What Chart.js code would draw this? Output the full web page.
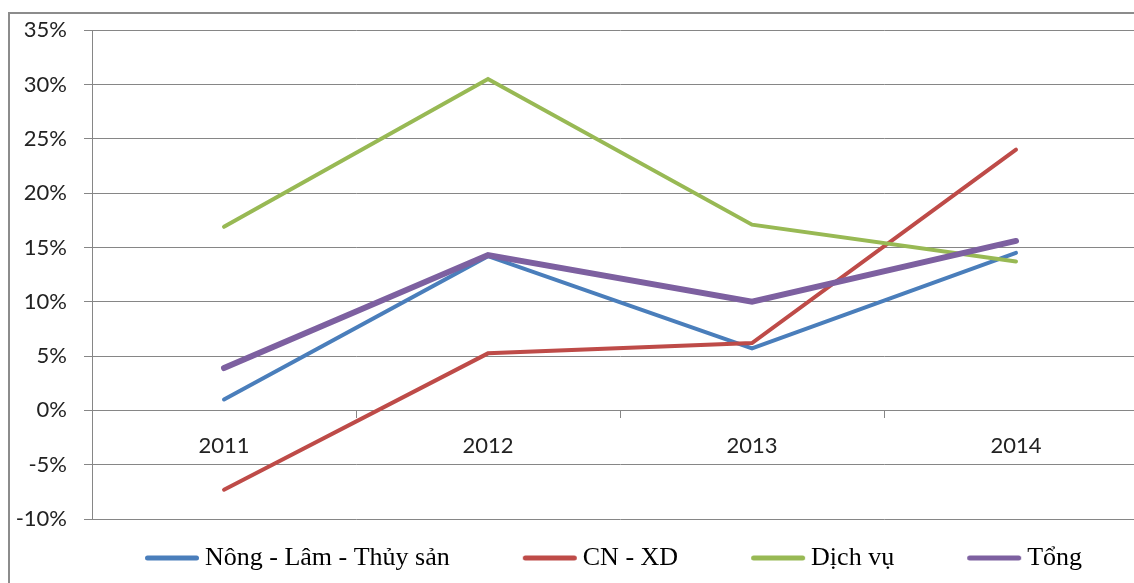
<!DOCTYPE html>
<html><head><meta charset="utf-8">
<script src="https://cdn.jsdelivr.net/npm/chart.js@4.4.0/dist/chart.umd.min.js"></script>
<style>
html,body{margin:0;padding:0;background:#fff;overflow:hidden;width:1134px;height:583px}
#frame{position:absolute;left:8px;top:12px;width:1200px;height:700px;border-left:2px solid #8c8c8c;border-top:2px solid #8c8c8c}
#wrap{position:absolute;left:0;top:0;width:1190px;height:583px}
</style></head><body>
<div id="frame"></div>
<div id="wrap"><canvas id="c"></canvas></div>
<script>
const years = ['2011', '2012', '2013', '2014'];
const nongLamThuySan = [1.0, 14.2, 5.7, 14.5];
const cnXd = [-7.3, 5.25, 6.2, 24.0];
const dichVu = [16.9, 30.5, 17.1, 13.7];
const tong = [3.9, 14.3, 10.0, 15.6];
const seriesNames = ['Nông - Lâm - Thủy sản', 'CN - XD', 'Dịch vụ', 'Tổng'];
const yMin = -10, yMax = 35, yStep = 5;

const colors = ['#4a7ebb', '#be4b48', '#98b954', '#7d60a0'];
const widths = [4, 4, 4, 6];
const seriesData = [nongLamThuySan, cnXd, dichVu, tong];

const BOX = 94;
function legendLine(color) {
  const c = document.createElement('canvas');
  c.width = BOX + 20; c.height = 12;
  const g = c.getContext('2d');
  g.strokeStyle = color; g.lineWidth = 5; g.lineCap = 'round';
  g.beginPath(); g.moveTo(10 + BOX - 47 + 2.5, 6); g.lineTo(10 + BOX + 7 - 2.5, 6); g.stroke();
  return c;
}

const datasets = seriesData.map((d, i) => ({
  label: seriesNames[i],
  data: d,
  borderColor: colors[i],
  backgroundColor: colors[i],
  borderWidth: widths[i],
  borderCapStyle: 'round',
  borderJoinStyle: 'miter',
  pointRadius: 0,
  pointHoverRadius: 0,
  pointStyle: legendLine(colors[i]),
  tension: 0,
  fill: false,
  order: 4 - i
}));

const gridColor = '#868686';
new Chart(document.getElementById('c'), {
  type: 'line',
  data: { labels: years, datasets },
  options: {
    responsive: true,
    maintainAspectRatio: false,
    animation: false,
    layout: { padding: { left: 0, right: 10, top: 28, bottom: 2 } },
    plugins: {
      tooltip: { enabled: false },
      legend: {
        position: 'bottom',
        labels: {
          usePointStyle: true,
          pointStyleWidth: BOX,
          padding: 26,
          color: '#000',
          font: { family: '"Liberation Serif", "Times New Roman", serif', size: 26 },
          sort: (a, b) => a.datasetIndex - b.datasetIndex
        }
      }
    },
    scales: {
      x: {
        type: 'category',
        position: { y: 0 },
        offset: true,
        grid: { drawOnChartArea: false, offset: true, tickLength: 8, color: gridColor, lineWidth: 1 },
        border: { display: false },
        ticks: { color: '#222', padding: 14, font: { family: 'Lato', size: 22 }, maxRotation: 0 }
      },
      y: {
        min: yMin, max: yMax,
        afterFit: (s) => { s.width = 92; },
        grid: { color: gridColor, lineWidth: 1, tickLength: 8 },
        border: { display: true, color: gridColor, width: 1 },
        ticks: { stepSize: yStep, color: '#222', padding: 17, font: { family: 'Lato', size: 22 },
          callback: (v) => v + '%' }
      },
      yRightSpace: {
        position: 'right',
        display: true,
        afterFit: (s) => { s.width = 32; },
        grid: { display: false },
        border: { display: false },
        ticks: { display: false }
      }
    }
  }
});
</script>
</body></html>
